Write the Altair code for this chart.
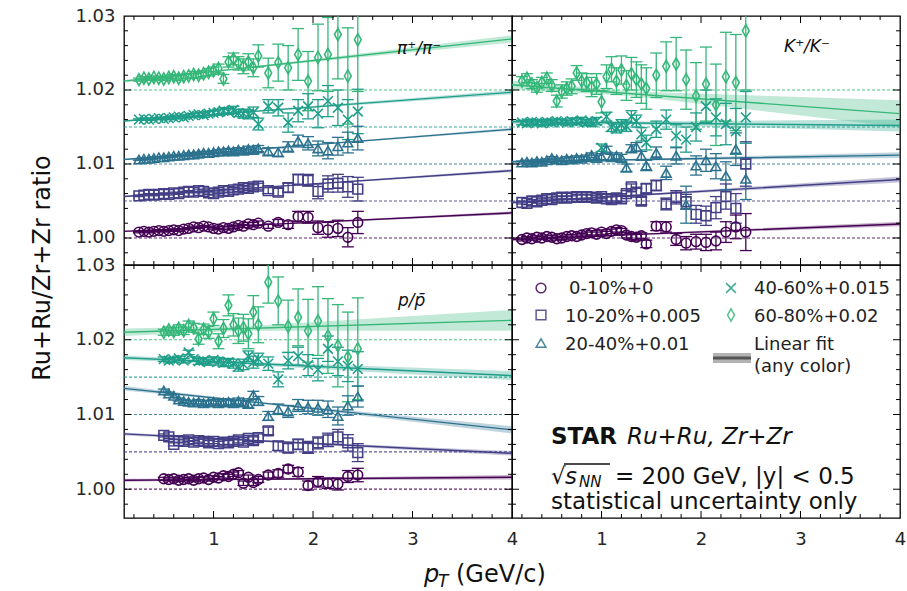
import altair as alt
import pandas as pd

CENT = ["0-10%+0", "10-20%+0.005", "20-40%+0.01", "40-60%+0.015", "60-80%+0.02"]
OFFSET = [0.0, 0.005, 0.01, 0.015, 0.02]
COLORS = ["#440154", "#433e85", "#2c728e", "#1f9e89", "#35b779"]
SHAPES = ["circle", "square", "triangle-up", "M-1,-1L1,1M-1,1L1,-1", "M0,-1.25L0.7,0L0,1.25L-0.7,0Z"]

# ---------------- pi+/pi- ----------------
PT_PI = [0.25, 0.30, 0.35, 0.40, 0.45, 0.50, 0.55, 0.60, 0.65, 0.70, 0.75, 0.80, 0.85, 0.90, 0.95,
         1.00, 1.05, 1.10, 1.15, 1.20, 1.25, 1.30, 1.35, 1.40, 1.45,
         1.55, 1.65, 1.75, 1.85, 1.95, 2.05, 2.15, 2.25, 2.35, 2.45]
PI_R = [
    [1.0008, 1.0009, 1.0008, 1.0009, 1.0010, 1.0009, 1.0010, 1.0011, 1.0010, 1.0012, 1.0013, 1.0015, 1.0014, 1.0016, 1.0015,
     1.0013, 1.0012, 1.0014, 1.0013, 1.0015, 1.0017, 1.0016, 1.0019, 1.0018, 1.0020,
     1.0016, 1.0021, 1.0018, 1.0029, 1.0028, 1.0014, 1.0011, 1.0013, 1.0001, 1.0021],
    [1.0007, 1.0008, 1.0009, 1.0008, 1.0009, 1.0010, 1.0009, 1.0011, 1.0010, 1.0012, 1.0013, 1.0012, 1.0014, 1.0013, 1.0011,
     1.0010, 1.0012, 1.0014, 1.0013, 1.0015, 1.0016, 1.0018, 1.0017, 1.0019, 1.0020,
     1.0014, 1.0012, 1.0018, 1.0029, 1.0028, 1.0013, 1.0023, 1.0024, 1.0019, 1.0016],
    [1.0006, 1.0007, 1.0007, 1.0008, 1.0009, 1.0009, 1.0010, 1.0011, 1.0011, 1.0012, 1.0013, 1.0013, 1.0014, 1.0015, 1.0015,
     1.0016, 1.0017, 1.0017, 1.0018, 1.0017, 1.0019, 1.0018, 1.0020, 1.0019, 1.0021,
     1.0017, 1.0016, 1.0023, 1.0031, 1.0028, 1.0021, 1.0018, 1.0024, 1.0029, 1.0035],
    [1.0010, 1.0011, 1.0010, 1.0011, 1.0012, 1.0011, 1.0012, 1.0013, 1.0014, 1.0013, 1.0015, 1.0016, 1.0017, 1.0016, 1.0018,
     1.0019, 1.0020, 1.0022, 1.0021, 1.0023, 1.0019, 1.0018, 1.0017, 1.0020, 1.0004,
     1.0028, 1.0026, 1.0006, 1.0022, 1.0028, 1.0018, 1.0035, 1.0026, 1.0010, 1.0021],
    [1.0014, 1.0016, 1.0015, 1.0017, 1.0016, 1.0015, 1.0017, 1.0018, 1.0016, 1.0018, 1.0019, 1.0021, 1.0020, 1.0022, 1.0024,
     1.0026, 1.0029, 1.0015, 1.0038, 1.0042, 1.0036, 1.0032, 1.0038, 1.0030, 1.0046,
     1.0023, 1.0037, 1.0030, 1.0048, 1.0012, 1.0044, 1.0048, 1.0075, 1.0019, 1.0068],
]
# statistical errors, in units of 1e-4
PI_E = [
    [1, 1, 1, 1, 1, 1, 1, 1, 1, 1, 1, 1, 1, 1, 1, 1, 1, 2, 2, 2, 2, 2, 2, 3, 3, 3, 4, 5, 7, 8, 9, 10, 11, 13, 15],
    [1, 1, 1, 1, 1, 1, 1, 1, 1, 1, 1, 1, 2, 2, 2, 2, 2, 2, 2, 3, 3, 3, 3, 3, 4, 4, 5, 6, 7, 8, 10, 11, 12, 14, 16],
    [1, 1, 1, 1, 1, 1, 1, 1, 1, 1, 2, 2, 2, 2, 2, 2, 2, 3, 3, 3, 3, 3, 4, 4, 4, 5, 6, 7, 8, 9, 10, 11, 12, 14, 16],
    [1, 1, 1, 1, 1, 1, 2, 2, 2, 2, 2, 2, 3, 3, 3, 3, 4, 4, 4, 5, 5, 6, 6, 7, 8, 9, 11, 13, 15, 17, 19, 21, 24, 27, 30],
    [2, 2, 2, 2, 2, 2, 2, 3, 3, 3, 3, 4, 4, 4, 5, 5, 6, 6, 7, 8, 9, 10, 11, 12, 15, 20, 25, 30, 35, 40, 45, 50, 60, 65, 70],
]

# ---------------- K+/K- ----------------
PT_K = [0.20, 0.25, 0.30, 0.35, 0.40, 0.45, 0.50, 0.55, 0.60, 0.65, 0.70, 0.75, 0.80, 0.85, 0.90, 0.95,
        1.00, 1.05, 1.10, 1.15, 1.20, 1.25, 1.30, 1.35, 1.40, 1.45,
        1.55, 1.65, 1.75, 1.85, 1.95, 2.05, 2.15, 2.25, 2.35, 2.45]
K_R = [
    [0.9998, 1.0000, 0.9999, 1.0001, 1.0000, 1.0002, 1.0001, 0.9999, 1.0000, 1.0002, 1.0003, 1.0002, 1.0004, 1.0006, 1.0007, 1.0005,
     1.0008, 1.0006, 1.0009, 1.0011, 1.0010, 1.0004, 1.0002, 1.0001, 1.0003, 0.9992,
     1.0016, 1.0015, 0.9998, 0.9993, 0.9995, 0.9994, 0.9996, 1.0008, 1.0015, 1.0008],
    [0.9998, 0.9997, 1.0000, 0.9999, 1.0001, 1.0003, 1.0002, 1.0004, 1.0005, 1.0004, 1.0005, 1.0006, 1.0005, 1.0006, 1.0005, 1.0004,
     1.0006, 1.0003, 1.0002, 1.0004, 1.0003, 1.0010, 1.0019, 1.0012, 1.0000, 1.0017,
     1.0021, 0.9996, 1.0005, 0.9999, 0.9982, 0.9980, 0.9991, 1.0006, 0.9990, 1.0050],
    [1.0002, 1.0003, 1.0002, 1.0004, 1.0003, 1.0005, 1.0008, 1.0006, 1.0005, 1.0007, 1.0006, 1.0008, 1.0007, 1.0009, 1.0012, 1.0008,
     1.0010, 1.0020, 1.0009, 1.0011, 1.0008, 0.9995, 1.0021, 1.0023, 1.0011, 0.9998,
     1.0015, 0.9988, 1.0011, 0.9945, 0.9998, 1.0005, 0.9997, 0.9984, 1.0020, 0.9980],
    [1.0006, 1.0005, 1.0007, 1.0006, 1.0005, 1.0007, 1.0006, 1.0008, 1.0007, 1.0006, 1.0008, 1.0007, 1.0009, 1.0006, 1.0006, 1.0008,
     0.9972, 1.0014, 1.0000, 0.9998, 1.0003, 1.0001, 1.0014, 1.0008, 0.9990, 0.9979,
     0.9997, 1.0010, 0.9988, 0.9983, 1.0000, 1.0028, 1.0013, 1.0004, 0.9994, 1.0013],
    [1.0012, 1.0016, 1.0008, 1.0003, 1.0010, 1.0016, 1.0006, 0.9985, 0.9998, 1.0002, 1.0005, 1.0023, 1.0012, 1.0010, 1.0004, 1.0008,
     0.9984, 1.0018, 1.0028, 1.0012, 1.0027, 1.0006, 1.0022, 1.0014, 1.0008, 1.0002,
     1.0020, 1.0032, 1.0035, 1.0014, 0.9992, 1.0008, 0.9980, 1.0018, 1.0010, 1.0080],
]
K_E = [
    [2, 2, 2, 2, 2, 2, 2, 2, 2, 2, 2, 2, 2, 2, 3, 3, 3, 3, 3, 3, 3, 4, 4, 4, 4, 5, 6, 7, 8, 9, 10, 11, 12, 14, 16, 25],
    [2, 2, 2, 2, 2, 2, 2, 2, 2, 2, 2, 3, 3, 3, 3, 3, 3, 3, 4, 4, 4, 4, 4, 5, 5, 6, 7, 8, 9, 10, 12, 13, 15, 17, 20, 30],
    [2, 2, 2, 2, 2, 2, 2, 2, 2, 3, 3, 3, 3, 3, 3, 4, 4, 4, 4, 4, 5, 5, 5, 6, 6, 7, 8, 9, 11, 25, 13, 15, 17, 19, 22, 28],
    [3, 3, 3, 3, 3, 3, 3, 3, 3, 3, 4, 4, 4, 4, 5, 5, 5, 6, 6, 6, 7, 7, 8, 8, 9, 10, 11, 13, 15, 17, 19, 22, 25, 28, 31, 35],
    [6, 6, 6, 6, 7, 7, 8, 8, 9, 9, 10, 10, 11, 12, 13, 14, 15, 16, 17, 18, 19, 20, 22, 24, 26, 28, 30, 33, 36, 40, 45, 50, 55, 60, 65, 80],
]

# ---------------- p/pbar ----------------
PT_P = [0.50, 0.55, 0.60, 0.65, 0.70, 0.75, 0.80, 0.85, 0.90, 0.95,
        1.00, 1.05, 1.10, 1.15, 1.20, 1.25, 1.30, 1.35, 1.40, 1.45,
        1.55, 1.65, 1.75, 1.85, 1.95, 2.05, 2.15, 2.25, 2.35, 2.45]
P_R = [
    [1.0014, 1.0013, 1.0014, 1.0012, 1.0013, 1.0014, 1.0012, 1.0014, 1.0015, 1.0013,
     1.0016, 1.0015, 1.0018, 1.0017, 1.0020, 1.0022, 1.0008, 1.0016, 1.0009, 1.0013,
     1.0019, 1.0021, 1.0027, 1.0023, 1.0005, 1.0010, 1.0008, 1.0007, 1.0017, 1.0019],
    [1.0022, 1.0020, 1.0010, 1.0015, 1.0014, 1.0016, 1.0013, 1.0015, 1.0014, 1.0012,
     1.0014, 1.0011, 1.0013, 1.0012, 1.0014, 1.0016, 1.0013, 1.0018, 1.0015, 1.0019,
     1.0028, 1.0008, 1.0005, 1.0010, 1.0006, 1.0012, 1.0016, 1.0020, 1.0012, 0.9999],
    [1.0032, 1.0028, 1.0025, 1.0020, 1.0018, 1.0017, 1.0016, 1.0017, 1.0015, 1.0016,
     1.0017, 1.0015, 1.0016, 1.0017, 1.0015, 1.0018, 1.0016, 1.0014, 1.0026, 1.0018,
     0.9998, 1.0007, 1.0004, 1.0012, 1.0010, 1.0009, 1.0007, 0.9998, 1.0012, 1.0024],
    [1.0024, 1.0022, 1.0023, 1.0025, 1.0022, 1.0033, 1.0024, 1.0021, 1.0022, 1.0020,
     1.0023, 1.0021, 1.0019, 1.0020, 1.0018, 1.0014, 1.0017, 1.0028, 1.0020, 1.0024,
     1.0018, 0.9997, 1.0022, 1.0028, 1.0016, 1.0010, 1.0038, 1.0021, 1.0015, 1.0011],
    [1.0010, 1.0013, 1.0011, 1.0015, 1.0012, 1.0019, 1.0016, 1.0001, 1.0014, 1.0010,
     1.0028, 0.9998, 1.0015, 1.0046, 1.0020, 1.0012, 1.0016, 1.0008, 1.0037, 1.0020,
     1.0077, 1.0052, 1.0018, 1.0030, 1.0012, 1.0025, 1.0005, 0.9992, 0.9977, 0.9988],
]
P_E = [
    [2, 2, 2, 2, 2, 2, 2, 2, 2, 2, 2, 2, 3, 3, 3, 3, 3, 3, 4, 4, 4, 5, 5, 6, 6, 7, 7, 8, 8, 9],
    [2, 2, 2, 2, 2, 2, 2, 2, 3, 3, 3, 3, 3, 3, 4, 4, 4, 4, 5, 5, 5, 6, 6, 7, 8, 8, 9, 10, 11, 12],
    [2, 2, 2, 2, 2, 2, 2, 3, 3, 3, 3, 3, 4, 4, 4, 4, 5, 5, 5, 6, 6, 7, 8, 8, 9, 10, 11, 12, 13, 14],
    [3, 3, 3, 3, 3, 3, 3, 4, 4, 4, 4, 5, 5, 5, 6, 6, 7, 7, 8, 8, 9, 10, 11, 12, 14, 15, 17, 19, 21, 23],
    [4, 4, 5, 5, 5, 6, 6, 7, 7, 8, 9, 10, 12, 14, 15, 17, 18, 20, 22, 24, 28, 32, 35, 38, 42, 46, 50, 55, 60, 68],
]

# ---------------- linear fits (value at FIT_PT, band half-width in 1e-4) ----------------
FIT_PT = [0.1, 1.3, 4.0]
PI_FIT = [[1.0009, 1.00167, 1.0034], [1.0006, 1.00168, 1.0041], [1.0006, 1.00186, 1.0047],
          [1.0008, 1.0020, 1.0047], [1.0012, 1.00295, 1.0069]]
PI_W = [[1, 0.5, 2], [1, 0.5, 2], [1, 0.5, 2], [1, 1, 3], [2, 1, 5]]
K_FIT = [[0.9998, 1.00045, 1.0019], [0.9998, 1.00075, 1.0029], [1.0003, 1.00058, 1.0012],
         [1.0007, 1.00055, 1.0002], [1.0007, 0.9995, 0.9968]]
K_W = [[2, 1, 3], [2, 1, 4], [2, 1, 4], [3, 2, 8], [6, 3, 18]]
P_FIT = [[1.0012, 1.00132, 1.0016], [1.0024, 1.00158, 0.9998], [1.0035, 1.0018, 0.99795],
         [1.0026, 1.00188, 1.0002], [1.0010, 1.0015, 1.0026]]
P_W = [[2, 1, 3], [2, 1, 3], [3, 1, 5], [3, 2, 6], [5, 3, 14]]

X_TICKS = [1, 2, 3, 4]
Y_TICKS = [1.00, 1.01, 1.02, 1.03]
X_MAJOR = [1, 2, 3]
X_MINOR = [0.2, 0.4, 0.6, 0.8, 1.2, 1.4, 1.6, 1.8, 2.2, 2.4, 2.6, 2.8, 3.2, 3.4, 3.6, 3.8]
Y_MAJOR = [1.00, 1.01, 1.02]
Y_MINOR = [0.998, 1.002, 1.004, 1.006, 1.008, 1.012, 1.014, 1.016, 1.018,
           1.022, 1.024, 1.026, 1.028]

FONT = "DejaVu Sans"
W = 388
H_TOP, H_BOT = 249, 253
YD_TOP = [0.99635, 1.03]
YD_BOT = [0.99615, 1.03]
ONE = pd.DataFrame({"a": [0]})
MSIZE = 95


def series_df(pt, ratios, errs):
    rows = []
    for c, off, rr, ee in zip(CENT, OFFSET, ratios, errs):
        for x, r, e in zip(pt, rr, ee):
            y = r + off
            rows.append({"x": x, "y": y, "lo": y - e * 1e-4, "hi": y + e * 1e-4, "cent": c})
    return pd.DataFrame(rows)


def fit_df(fits, widths):
    rows = []
    for c, off, ff, ww in zip(CENT, OFFSET, fits, widths):
        for x, f, w in zip(FIT_PT, ff, ww):
            y = f + off
            rows.append({"x": x, "y": y, "lo": y - w * 1e-4, "hi": y + w * 1e-4, "cent": c})
    return pd.DataFrame(rows)


def panel(H, ydom, show_x, show_y, content):
    xs = alt.Scale(domain=[0.1, 4.0], nice=False, zero=False)
    ys = alt.Scale(domain=ydom, nice=False, zero=False)
    if show_x:
        xax = alt.Axis(values=X_TICKS, format="d", ticks=False, domain=False, grid=False,
                       labelFontSize=18, labelFont=FONT, labelColor="#262626", labelPadding=12,
                       labelFlush=False, title=None)
    else:
        xax = None
    if show_y:
        yax = alt.Axis(values=Y_TICKS, format=".2f", ticks=False, domain=False, grid=False,
                       labelFontSize=18, labelFont=FONT, labelColor="#262626", labelPadding=9,
                       labelFlush=False, title=None)
    else:
        yax = None
    X = lambda f: alt.X(f"{f}:Q", scale=xs, axis=xax, title=None)
    Y = lambda f: alt.Y(f"{f}:Q", scale=ys, axis=yax, title=None)
    layers = content(X, Y, H)
    # inward ticks on all four sides
    xmaj = pd.DataFrame({"x": X_MAJOR})
    xmin = pd.DataFrame({"x": X_MINOR})
    ymaj = pd.DataFrame({"y": Y_MAJOR})
    ymin = pd.DataFrame({"y": Y_MINOR})
    tk = dict(color="black", strokeWidth=1)
    for d, L in ((xmaj, 7), (xmin, 4)):
        layers.append(alt.Chart(d).mark_rule(**tk).encode(x=X("x"), y=alt.value(H), y2=alt.value(H - L)))
        layers.append(alt.Chart(d).mark_rule(**tk).encode(x=X("x"), y=alt.value(0), y2=alt.value(L)))
    for d, L in ((ymaj, 7), (ymin, 4)):
        layers.append(alt.Chart(d).mark_rule(**tk, clip=True).encode(y=Y("y"), x=alt.value(0), x2=alt.value(L)))
        layers.append(alt.Chart(d).mark_rule(**tk, clip=True).encode(y=Y("y"), x=alt.value(W), x2=alt.value(W - L)))
    return alt.layer(*layers).properties(width=W, height=H)


COLOR = alt.Color("cent:N", scale=alt.Scale(domain=CENT, range=COLORS), legend=None)
SHAPE = alt.Shape("cent:N", scale=alt.Scale(domain=CENT, range=SHAPES), legend=None)


def data_content(sdf, fdf, label, lx, ly):
    def build(X, Y, H):
        ref = pd.DataFrame({"y": [1.0 + o for o in OFFSET], "cent": CENT})
        L = []
        L.append(alt.Chart(ref).mark_rule(strokeDash=[3, 2], strokeWidth=1.2, opacity=0.85)
                 .encode(y=Y("y"), color=COLOR))
        L.append(alt.Chart(fdf).mark_area(opacity=0.3, clip=True)
                 .encode(x=X("x"), y=Y("lo"), y2="hi", color=COLOR))
        L.append(alt.Chart(fdf).mark_line(strokeWidth=1.4, clip=True)
                 .encode(x=X("x"), y=Y("y"), color=COLOR))
        L.append(alt.Chart(sdf).mark_rule(strokeWidth=1.3, clip=True)
                 .encode(x=X("x"), y=Y("lo"), y2="hi", color=COLOR))
        for f in ("lo", "hi"):
            L.append(alt.Chart(sdf).mark_rule(strokeWidth=1.3, clip=True, xOffset=-6, x2Offset=6)
                     .encode(x=X("x"), x2="x", y=Y(f), color=COLOR))
        L.append(alt.Chart(sdf).mark_point(filled=False, size=MSIZE, strokeWidth=1.6, opacity=1, clip=True)
                 .encode(x=X("x"), y=Y("y"), color=COLOR, shape=SHAPE))
        L.append(alt.Chart(ONE).mark_text(text=label, font=FONT, fontSize=17, fontStyle="italic",
                                           align="left", baseline="middle", color="#111")
                 .encode(x=alt.value(lx), y=alt.value(ly)))
        return L
    return build


def ytitle_layer():
    return alt.Chart(ONE).mark_text(text="Ru+Ru/Zr+Zr ratio", font=FONT, fontSize=24, angle=270,
                                    align="center", baseline="middle", color="#111"
                                    ).encode(x=alt.value(-81), y=alt.value(252))


def xtitle_layers():
    return [
        alt.Chart(ONE).mark_text(text="p", font=FONT, fontSize=24, fontStyle="italic", align="left",
                                 baseline="alphabetic", color="#111").encode(x=alt.value(300), y=alt.value(317)),
        alt.Chart(ONE).mark_text(text="T", font=FONT, fontSize=17, fontStyle="italic", align="left",
                                 baseline="alphabetic", color="#111").encode(x=alt.value(314), y=alt.value(322)),
        alt.Chart(ONE).mark_text(text="(GeV/c)", font=FONT, fontSize=24, align="left",
                                 baseline="alphabetic", color="#111").encode(x=alt.value(332), y=alt.value(317)),
    ]


pi_build = data_content(series_df(PT_PI, PI_R, PI_E), fit_df(PI_FIT, PI_W), "\u03c0\u207a/\u03c0\u207b", 273, 33)
k_build = data_content(series_df(PT_K, K_R, K_E), fit_df(K_FIT, K_W), "K\u207a/K\u207b", 272, 31)
p_build = data_content(series_df(PT_P, P_R, P_E), fit_df(P_FIT, P_W), "p/p\u0304", 274, 36)


def p1_content(X, Y, H):
    return pi_build(X, Y, H) + [ytitle_layer()]


def p3_content(X, Y, H):
    return p_build(X, Y, H) + xtitle_layers()


def legend_content(X, Y, H):
    L = []
    sym_pos = [(29, 23), (29, 50), (29, 78), (219, 23), (219, 50)]
    txt_pos = [(57, 29), (53, 57), (53, 85), (242, 29), (242, 57)]
    for c, col, shp, (sx, sy), (tx, ty) in zip(CENT, COLORS, SHAPES, sym_pos, txt_pos):
        L.append(alt.Chart(ONE).mark_point(shape=shp, filled=False, size=MSIZE, strokeWidth=1.5,
                                           color=col, opacity=0.85)
                 .encode(x=alt.value(sx), y=alt.value(sy)))
        L.append(alt.Chart(ONE).mark_text(text=c, font=FONT, fontSize=18, align="left",
                                          baseline="alphabetic", color="#222")
                 .encode(x=alt.value(tx), y=alt.value(ty)))
    L.append(alt.Chart(ONE).mark_rule(strokeWidth=10, color="#b3b3b3")
             .encode(x=alt.value(201), x2=alt.value(239), y=alt.value(93)))
    L.append(alt.Chart(ONE).mark_rule(strokeWidth=3, color="#555555")
             .encode(x=alt.value(201), x2=alt.value(239), y=alt.value(93)))
    L.append(alt.Chart(ONE).mark_text(text="Linear fit", font=FONT, fontSize=18, align="left",
                                      baseline="alphabetic", color="#222").encode(x=alt.value(242), y=alt.value(85)))
    L.append(alt.Chart(ONE).mark_text(text="(any color)", font=FONT, fontSize=18, align="left",
                                      baseline="alphabetic", color="#222").encode(x=alt.value(242), y=alt.value(107)))
    # annotation
    L.append(alt.Chart(ONE).mark_text(text="STAR", font=FONT, fontSize=23, fontWeight="bold", align="left",
                                      baseline="alphabetic", color="#111").encode(x=alt.value(39), y=alt.value(179)))
    L.append(alt.Chart(ONE).mark_text(text="Ru+Ru, Zr+Zr", font=FONT, fontSize=23, fontStyle="italic",
                                      align="left", baseline="alphabetic", color="#111")
             .encode(x=alt.value(115), y=alt.value(179)))
    L.append(alt.Chart(ONE).mark_text(text="\u221a", font=FONT, fontSize=23, align="left",
                                      baseline="alphabetic", color="#111").encode(x=alt.value(39), y=alt.value(219)))
    L.append(alt.Chart(ONE).mark_rule(strokeWidth=1.3, color="#111")
             .encode(x=alt.value(52), x2=alt.value(98), y=alt.value(199)))
    L.append(alt.Chart(ONE).mark_text(text="s", font=FONT, fontSize=23, fontStyle="italic", align="left",
                                      baseline="alphabetic", color="#111").encode(x=alt.value(53), y=alt.value(219)))
    L.append(alt.Chart(ONE).mark_text(text="NN", font=FONT, fontSize=15, fontStyle="italic", align="left",
                                      baseline="alphabetic", color="#111").encode(x=alt.value(67), y=alt.value(222)))
    L.append(alt.Chart(ONE).mark_text(text="= 200 GeV, |y| < 0.5", font=FONT, fontSize=23, align="left",
                                      baseline="alphabetic", color="#111").encode(x=alt.value(103), y=alt.value(219)))
    L.append(alt.Chart(ONE).mark_text(text="statistical uncertainty only", font=FONT, fontSize=23,
                                      align="left", baseline="alphabetic", color="#111")
             .encode(x=alt.value(39), y=alt.value(244)))
    return L


p1 = panel(H_TOP, YD_TOP, False, True, p1_content)
p2 = panel(H_TOP, YD_TOP, False, False, k_build)
p3 = panel(H_BOT, YD_BOT, True, True, p3_content)
p4 = panel(H_BOT, YD_BOT, True, False, legend_content)

chart = alt.concat(p1, p2, p3, p4, columns=2, spacing=0, bounds="flush").properties(
    padding={"left": 30, "top": 6, "right": 0, "bottom": 0},
    background="white",
).configure_view(stroke="black", strokeWidth=1.3)

chart.save("out.html", embed_options={"renderer": "svg", "actions": False})
